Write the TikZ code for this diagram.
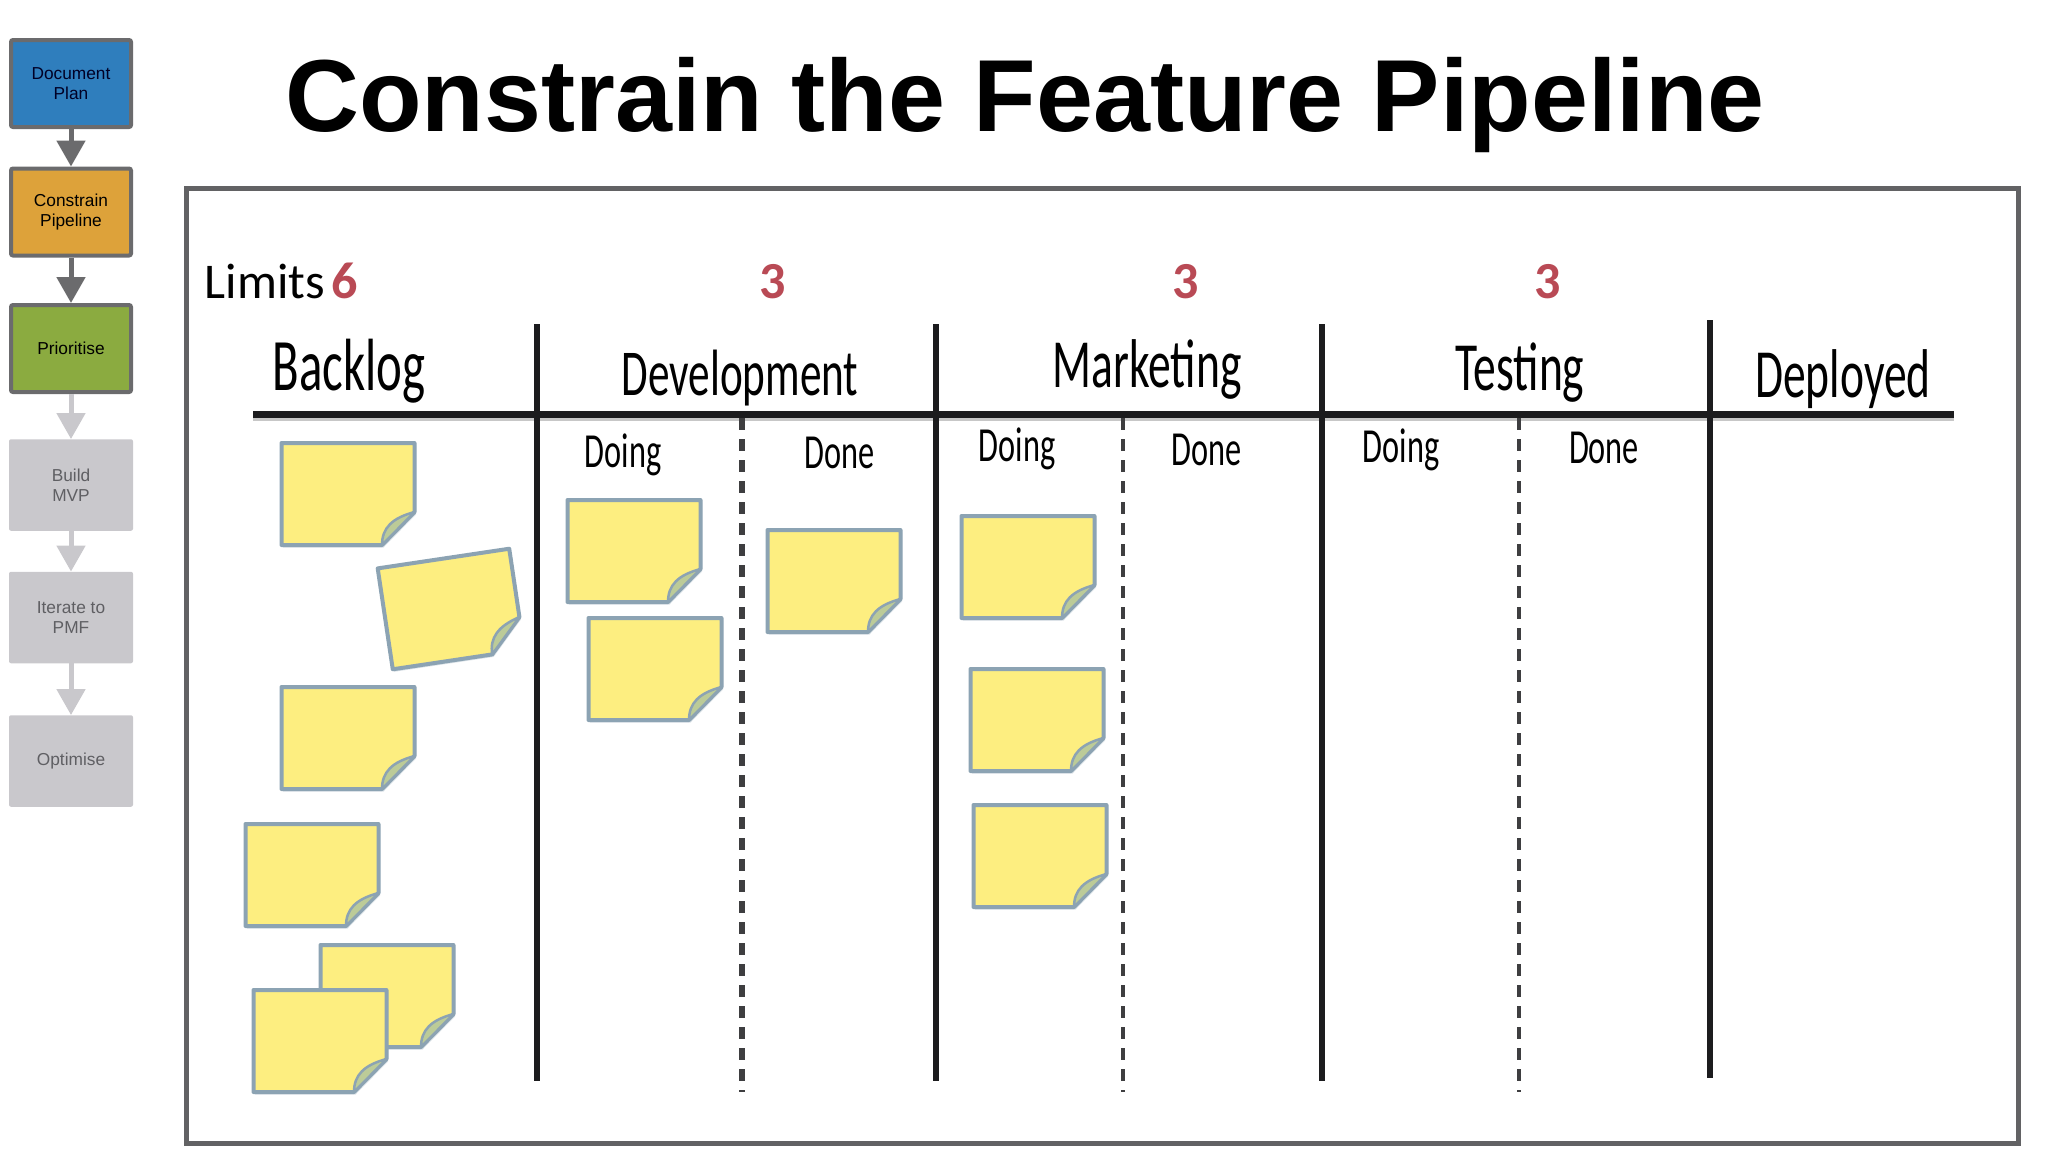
\documentclass[tikz,border=0pt]{standalone}
\usepackage{fontspec}
\setmainfont{Liberation Sans}
\newfontfamily\handfont[FakeStretch=0.66]{Carlito}
\newfontfamily\limitfont{Carlito}
\usetikzlibrary{arrows.meta,shadows}
\definecolor{planblue}{HTML}{2F7EBD}
\definecolor{pipeorange}{HTML}{DDA23A}
\definecolor{prioritygreen}{HTML}{8BAB40}
\definecolor{activeedge}{HTML}{6B6B6D}
\definecolor{idlegrey}{HTML}{C9C8CC}
\definecolor{idletext}{HTML}{5F5F63}
\definecolor{limitred}{HTML}{B94A55}
\definecolor{notefill}{HTML}{FDEE80}
\definecolor{noteedge}{HTML}{8CA3B3}
\definecolor{foldfill}{HTML}{BCCB98}
\definecolor{framegrey}{HTML}{626264}
\definecolor{ruleblack}{HTML}{1C1C1E}
\tikzset{
  flowbox/.style={rectangle,rounded corners=2pt,minimum width=120pt,minimum height=87pt,
    align=center,inner sep=0pt,font=\fontsize{17.3}{20.5}\selectfont},
  activebox/.style={flowbox,draw=activeedge,line width=4pt},
  idlebox/.style={flowbox,fill=idlegrey,text=idletext,minimum width=124pt,minimum height=91.5pt},
  activearrow/.style={draw=activeedge,line width=5pt,-{Triangle[width=28pt,length=26pt]}},
  idlearrow/.style={draw=idlegrey,line width=5pt,-{Triangle[width=28pt,length=26pt]}},
  headlabel/.style={anchor=base,font=\handfont\fontsize{69}{70}\selectfont},
  sublabel/.style={anchor=base,font=\handfont\fontsize{49}{50}\selectfont},
  limitlabel/.style={anchor=base,text=limitred,font=\limitfont\bfseries\fontsize{52}{56}\selectfont},
  columnrule/.style={draw=ruleblack,line width=5.5pt},
  headrule/.style={draw=ruleblack,line width=7pt,
    preaction={draw=black!22,line width=7pt,transform canvas={yshift=-3pt}}},
  donerule/.style={draw=ruleblack!85,line width=4.5pt,dash pattern=on 12pt off 9pt},
  pics/stickynote/.style={code={
    \filldraw[fill=notefill,draw=noteedge,line width=4pt,line join=round,
      drop shadow={shadow xshift=1.5pt,shadow yshift=-2.5pt,fill=noteedge,opacity=.3}]
      (-66.5,-51) -- (66.5,-51) -- (66.5,18) -- (34,51) -- (-66.5,51) -- cycle;
    \filldraw[fill=foldfill,draw=noteedge,line width=2.5pt,line join=round]
      (34,51) .. controls (34,34) and (44,24) .. (66.5,18) -- cycle;
  }}
}
\begin{document}
\begin{tikzpicture}[x=1pt,y=-1pt]
    \useasboundingbox (0,0) rectangle (2048,1152);

    % Title
    \node at (1025,131) [anchor=base,font=\bfseries\fontsize{102.4}{104}\selectfont] (title) {Constrain the Feature Pipeline};

    % Flow boxes
    \node at (71,83.5) [activebox,fill=planblue,text=black!85!blue] (docplan) {Document\\Plan};
    \node at (71,212) [activebox,fill=pipeorange] (constrain) {Constrain\\Pipeline};
    \node at (71,348.5) [activebox,fill=prioritygreen] (prioritise) {Prioritise};
    \node at (71,485) [idlebox] (buildmvp) {Build\\MVP};
    \node at (71,617.5) [idlebox] (iterate) {Iterate to\\PMF};
    \node at (71,761) [idlebox] (optimise) {Optimise};

    % Flow arrows
    \draw[activearrow] (docplan) -- (constrain);
    \draw[activearrow] (constrain) -- (prioritise);
    \draw[idlearrow] (prioritise) -- (buildmvp);
    \draw[idlearrow] (buildmvp) -- (iterate);
    \draw[idlearrow] (iterate) -- (optimise);

    % Board frame
    \draw[draw=framegrey,line width=5pt,fill=white,drop shadow={shadow xshift=1pt,shadow yshift=-3pt,opacity=.25}]
      (186,188) rectangle (2018,1143);

    % Board rules
    \draw[headrule] (253,414) -- (1954,414);
    \foreach \x/\ya/\yb in {537/324/1081,936/324/1081,1322/324/1081,1710/320/1078}
      \draw[columnrule] (\x,\ya) -- (\x,\yb);
    \draw[donerule,line width=5.5pt] (742,418) -- (742,1092);
    \foreach \x in {1123,1519}
      \draw[donerule] (\x,418) -- (\x,1092);

    % Limits
    \node at (265,298) [anchor=base,font=\limitfont\fontsize{50}{56}\selectfont] (limits) {Limits};
    \node at (345,298) [limitlabel] (limitbacklog) {6};
    \node at (773,298) [limitlabel] (limitdev) {3};
    \node at (1186,298) [limitlabel] (limitmarketing) {3};
    \node at (1548,298) [limitlabel] (limittesting) {3};

    % Column headings
    \node at (349,390) [headlabel,font=\handfont\fontsize{74}{75}\selectfont] (backlog) {Backlog};
    \node at (740,395) [headlabel,font=\handfont\fontsize{65.5}{67}\selectfont] (development) {Development};
    \node at (1147,387) [headlabel] (marketing) {Marketing};
    \node at (1520,390) [headlabel] (testing) {Testing};
    \node at (1843,397) [headlabel] (deployed) {Deployed};

    % Doing and done headings
    \node at (623,467) [sublabel] (devdoing) {Doing};
    \node at (840,468) [sublabel] (devdone) {Done};
    \node at (1017,461) [sublabel] (mktdoing) {Doing};
    \node at (1207,465) [sublabel] (mktdone) {Done};
    \node at (1401,462) [sublabel] (testdoing) {Doing};
    \node at (1604,463) [sublabel] (testdone) {Done};

    % Sticky notes
    \foreach \x/\y/\r in {348/494/0,451/609/8.5,348/738/0,312/875/0,387/996/0,320/1041/0,
                          634/551/0,655/669/0,834/581/0,1028/567/0,1037/720/0,1040/856/0}
      \pic at (\x,\y) [rotate=\r] {stickynote};
\end{tikzpicture}
\end{document}
